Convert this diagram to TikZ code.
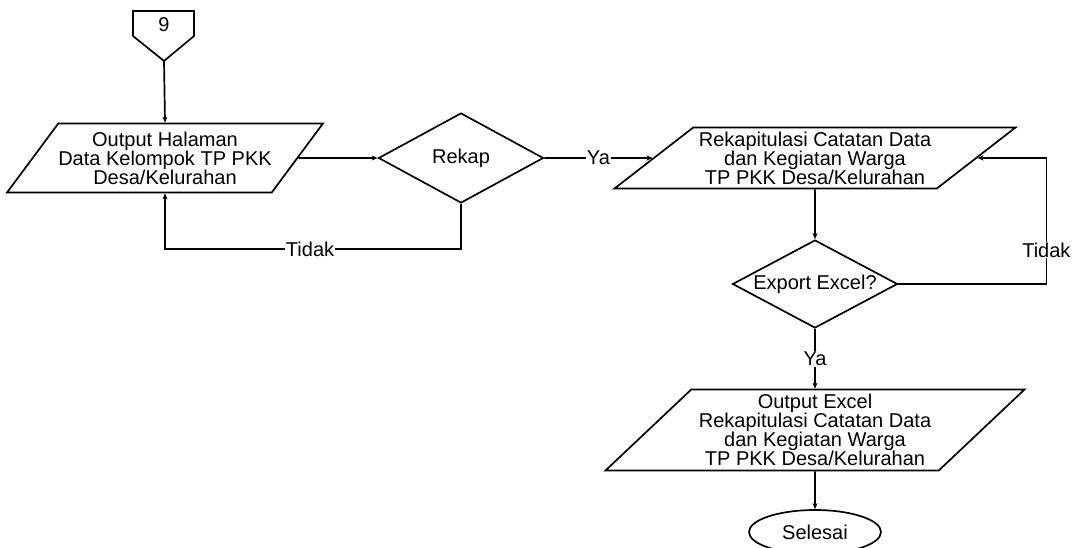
\documentclass[tikz,border=0pt]{standalone}
\usepackage{fontspec}
\setmainfont{Liberation Sans}
\usetikzlibrary{shapes.geometric,arrows.meta}
\begin{document}
\begin{tikzpicture}[x=1pt,y=-1pt,
  txt/.style={font=\fontsize{20}{19}\selectfont, align=center},
  base/.style={txt, draw, line width=1.7pt, inner sep=0pt},
  io/.style={base, trapezium, trapezium stretches body},
  dec/.style={base, diamond, shape aspect=1.87, minimum width=165pt, minimum height=90pt},
  term/.style={base, ellipse, minimum width=132pt, minimum height=44pt},
  conn/.style={line width=1.7pt, -{Stealth[length=6pt,width=5pt]}},
  lbl/.style={txt, fill=white, inner sep=1pt}]
\useasboundingbox (0,0) rectangle (1073,547);

% off-page connector
\draw[line width=1.7pt] (133,11) -- (194,11) -- (194,36) -- (164,61) -- (133,36) -- cycle;
\node[txt] (c9) at (164,25) {9};
\coordinate (c9tip) at (164,61);

\node[io, trapezium left angle=45.8, trapezium right angle=134.2,
      minimum width=300pt, minimum height=69pt] (p1) at (165,158)
  {Output Halaman\\Data Kelompok TP PKK\\Desa/Kelurahan};
\node[dec] (rekap) at (461,158) {Rekap};
\node[io, trapezium left angle=33.8, trapezium right angle=146.2,
      minimum width=401pt, minimum height=61pt] (p2) at (815,158)
  {Rekapitulasi Catatan Data\\dan Kegiatan Warga\\TP PKK Desa/Kelurahan};
\node[dec, minimum height=88pt] (exp) at (815,284) {Export Excel?};
\node[io, trapezium left angle=39.9, trapezium right angle=140.1,
      minimum width=419pt, minimum height=81pt] (p3) at (815,430)
  {Output Excel\\Rekapitulasi Catatan Data\\dan Kegiatan Warga\\TP PKK Desa/Kelurahan};
\node[term] (end) at (815,532) {Selesai};

\draw[conn] (c9tip) -- (p1.north);
\draw[conn] (p1.east) -- (rekap.west);
\draw[conn] (rekap.east) -- node[lbl] {Ya} (p2.west);
\draw[conn] (rekap.south) -- ++(0,45) -| node[lbl, pos=0.255] {Tidak} (p1.south);
\draw[conn] (p2.south) -- (exp.north);
\draw[conn] (exp.east) -- ++(148,0) |- node[lbl, pos=0.135] {Tidak} (p2.east);
\draw[conn] (exp.south) -- node[lbl] {Ya} (p3.north);
\draw[conn] (p3.south) -- (end.north);
\end{tikzpicture}
\end{document}
